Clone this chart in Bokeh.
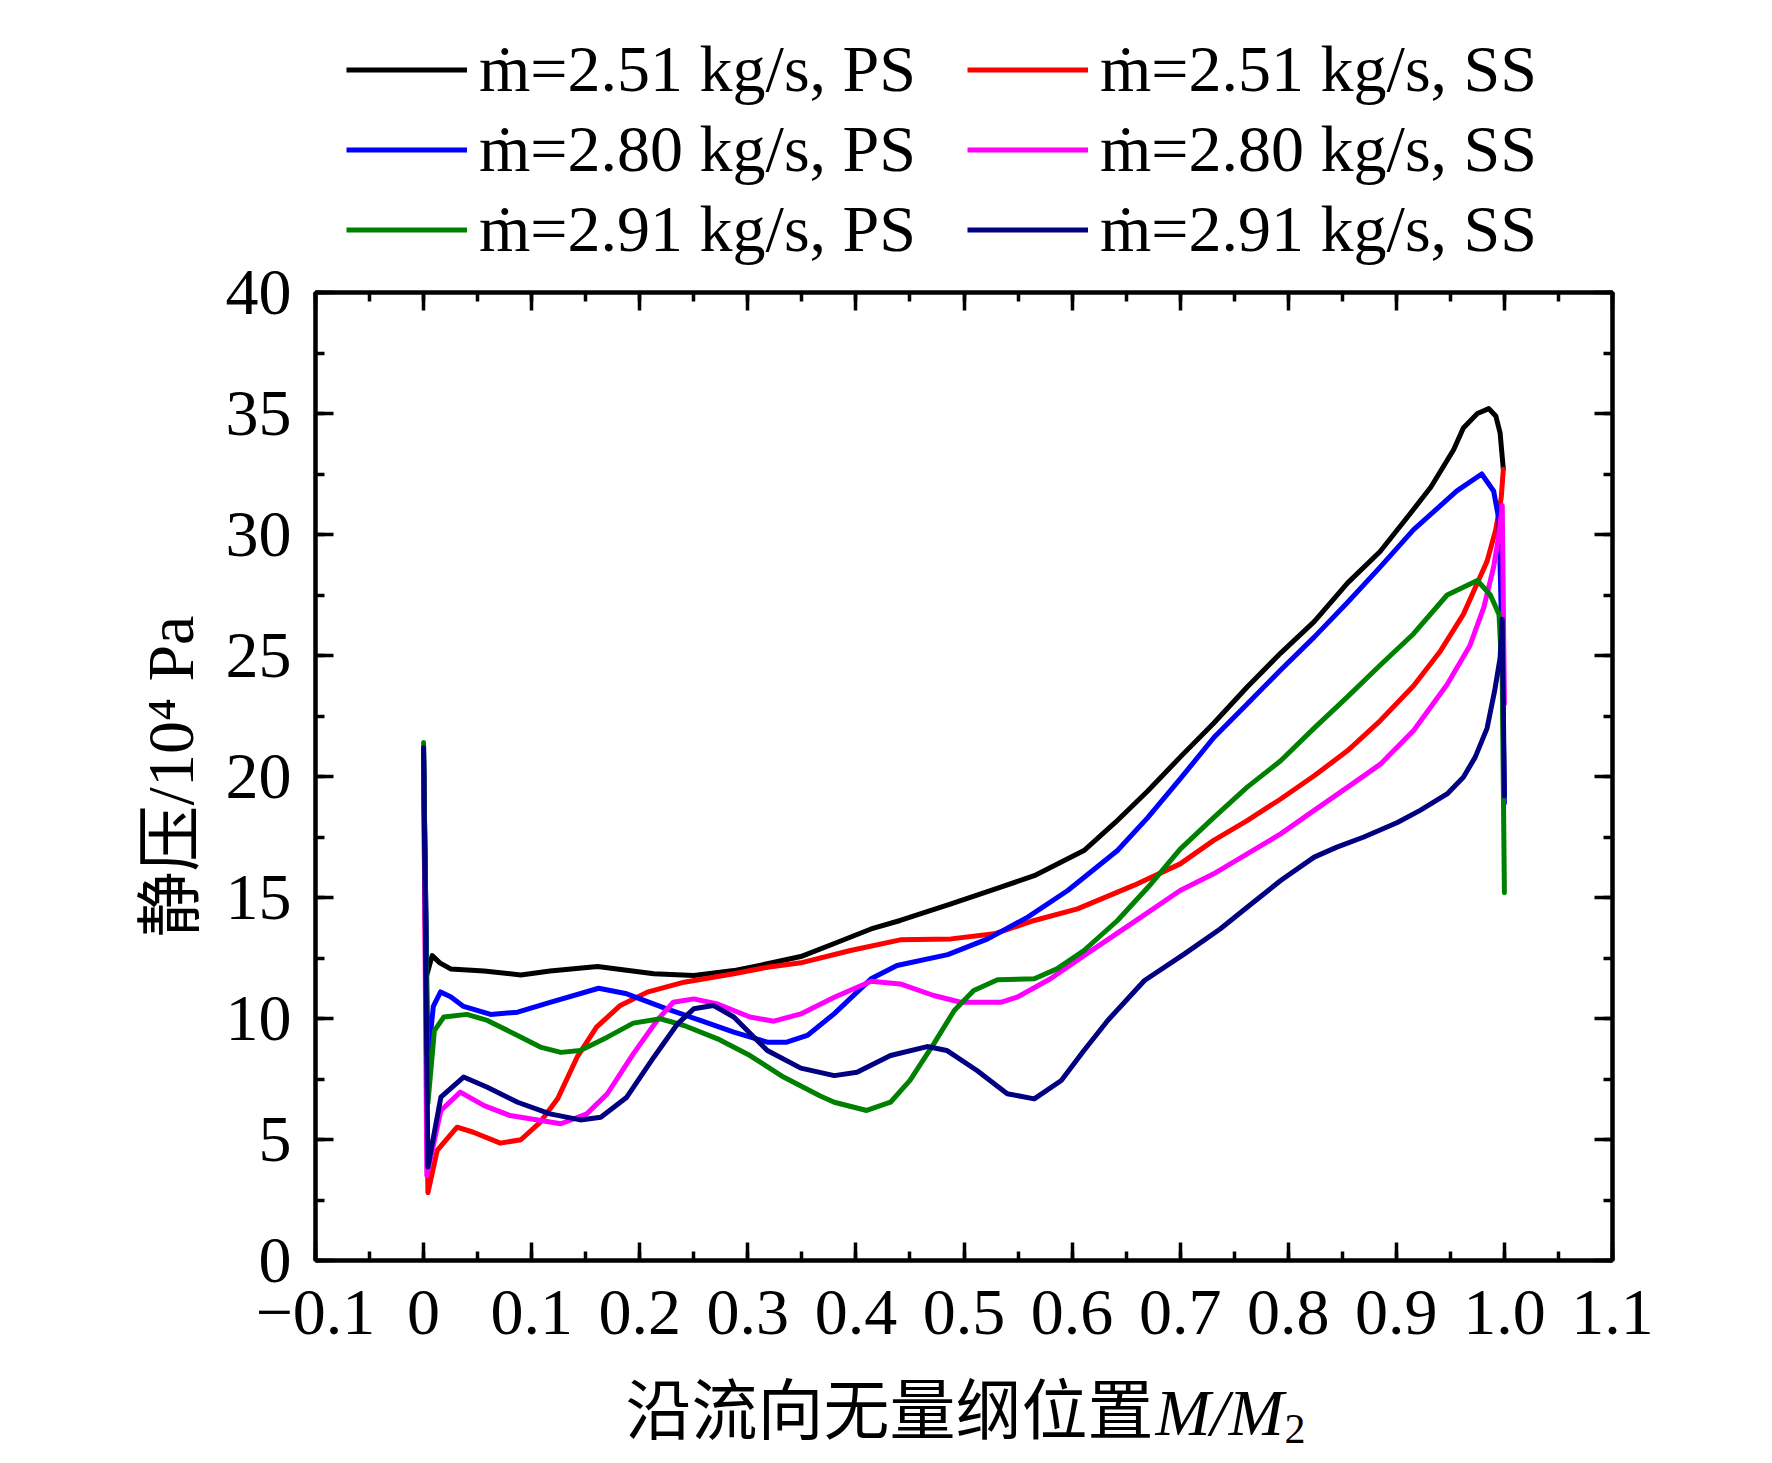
from bokeh.plotting import figure
from bokeh.layouts import column
from bokeh.models import (LinearAxis, FixedTicker, CustomJSTickFormatter, Legend,
                          LegendItem, Range1d, Label)
from bokeh.embed import file_html
from bokeh.resources import INLINE

# ---------------- data ----------------
x_251_ps = [0, 0.003, 0.008, 0.015, 0.025, 0.056, 0.09, 0.117, 0.161, 0.213, 0.25, 0.287,
            0.318, 0.349, 0.38, 0.414, 0.441, 0.488, 0.534, 0.565, 0.611, 0.64, 0.67, 0.7,
            0.731, 0.762, 0.793, 0.824, 0.855, 0.885, 0.91, 0.932, 0.953, 0.962, 0.975,
            0.9856, 0.992, 0.996, 0.999]
y_251_ps = [20.7, 11.8, 12.6, 12.3, 12.05, 11.96, 11.8, 11.96, 12.15, 11.85, 11.78, 11.98,
            12.26, 12.56, 13.1, 13.7, 14.05, 14.74, 15.43, 15.9, 16.94, 18.1, 19.4, 20.8,
            22.2, 23.7, 25.1, 26.4, 28.0, 29.3, 30.7, 31.96, 33.5, 34.4, 35.0,
            35.2, 34.9, 34.2, 32.7]

x_251_ss = [0, 0.004, 0.0126, 0.031, 0.046, 0.071, 0.09, 0.108, 0.124, 0.142, 0.16, 0.182,
            0.207, 0.241, 0.287, 0.318, 0.349, 0.395, 0.441, 0.488, 0.528, 0.565, 0.605,
            0.657, 0.7, 0.731, 0.762, 0.793, 0.824, 0.855, 0.885, 0.916, 0.941, 0.962,
            0.976, 0.984, 0.992, 0.997, 0.999]
y_251_ss = [20.0, 2.8, 4.55, 5.51, 5.3, 4.85, 4.99, 5.72, 6.68, 8.4, 9.64, 10.54,
            11.09, 11.5, 11.85, 12.12, 12.3, 12.81, 13.25, 13.29, 13.5, 14.05, 14.53,
            15.5, 16.39, 17.36, 18.18, 19.07, 20.03, 21.07, 22.3, 23.75, 25.2, 26.7,
            28.1, 28.9, 30.2, 31.5, 32.7]

x_280_ps = [0, 0.004, 0.009, 0.0157, 0.025, 0.037, 0.062, 0.087, 0.117, 0.162, 0.188, 0.225,
            0.256, 0.287, 0.318, 0.336, 0.355, 0.38, 0.414, 0.438, 0.485, 0.522, 0.559,
            0.596, 0.642, 0.67, 0.7, 0.731, 0.762, 0.793, 0.824, 0.855, 0.885, 0.916,
            0.956, 0.979, 0.99, 0.995, 0.998, 1.0]
y_280_ps = [21.0, 8.3, 10.5, 11.1, 10.9, 10.5, 10.17, 10.26, 10.67, 11.25, 11.02, 10.4,
            9.92, 9.44, 9.02, 9.02, 9.3, 10.2, 11.64, 12.19, 12.64, 13.29, 14.19,
            15.29, 16.94, 18.3, 19.9, 21.6, 23.0, 24.4, 25.76, 27.2, 28.65, 30.2,
            31.8, 32.5, 31.8, 30.6, 25.0, 18.9]

x_280_ss = [0, 0.003, 0.016, 0.034, 0.056, 0.08, 0.127, 0.151, 0.17, 0.194, 0.216, 0.231,
            0.25, 0.272, 0.302, 0.324, 0.349, 0.38, 0.414, 0.441, 0.472, 0.497, 0.534,
            0.549, 0.58, 0.611, 0.657, 0.7, 0.731, 0.762, 0.793, 0.824, 0.855, 0.885,
            0.916, 0.947, 0.968, 0.981, 0.99, 0.995, 0.998, 1.0]
y_280_ss = [20.8, 3.5, 6.2, 6.96, 6.4, 5.99, 5.65, 6.06, 6.89, 8.54, 9.92, 10.67,
            10.81, 10.6, 10.06, 9.89, 10.19, 10.88, 11.54, 11.43, 10.95, 10.67, 10.67,
            10.88, 11.64, 12.6, 13.98, 15.29, 15.98, 16.8, 17.63, 18.6, 19.56, 20.5,
            21.9, 23.8, 25.4, 27.0, 28.65, 30.0, 31.2, 23.0]

x_291_ps = [0, 0.004, 0.01, 0.0187, 0.04, 0.059, 0.087, 0.108, 0.127, 0.145, 0.17, 0.194,
            0.219, 0.241, 0.272, 0.302, 0.333, 0.367, 0.38, 0.41, 0.432, 0.45, 0.472,
            0.491, 0.509, 0.531, 0.565, 0.586, 0.611, 0.642, 0.673, 0.7, 0.731, 0.762,
            0.793, 0.824, 0.855, 0.885, 0.916, 0.947, 0.975, 0.987, 0.995, 0.998, 1.0]
y_291_ps = [21.4, 6.5, 9.5, 10.06, 10.17, 9.92, 9.3, 8.82, 8.6, 8.68, 9.23, 9.81,
            9.99, 9.71, 9.16, 8.47, 7.58, 6.8, 6.54, 6.2, 6.54, 7.44, 8.95,
            10.33, 11.16, 11.6, 11.64, 12.05, 12.81, 14.05, 15.56, 17.0, 18.3, 19.56,
            20.65, 22.0, 23.3, 24.6, 25.9, 27.5, 28.1, 27.5, 26.7, 24.0, 15.2]

x_291_ss = [0, 0.004, 0.016, 0.037, 0.059, 0.087, 0.117, 0.145, 0.164, 0.188, 0.213, 0.235,
            0.25, 0.268, 0.287, 0.318, 0.349, 0.38, 0.401, 0.432, 0.466, 0.484, 0.512,
            0.54, 0.565, 0.59, 0.611, 0.633, 0.667, 0.704, 0.737, 0.762, 0.793, 0.824,
            0.845, 0.87, 0.901, 0.922, 0.947, 0.962, 0.973, 0.984, 0.991, 0.996, 0.998, 1.0]
y_291_ss = [21.2, 3.86, 6.75, 7.58, 7.16, 6.54, 6.06, 5.81, 5.92, 6.75, 8.4, 9.78,
            10.4, 10.54, 10.06, 8.68, 7.95, 7.64, 7.78, 8.47, 8.84, 8.68, 7.85,
            6.89, 6.68, 7.44, 8.68, 9.92, 11.57, 12.67, 13.7, 14.6, 15.7, 16.67,
            17.08, 17.5, 18.1, 18.6, 19.28, 19.97, 20.8, 22.0, 23.55, 24.9, 26.5, 19.2]

series_labels = ["ṁ=2.51 kg/s, PS", "ṁ=2.51 kg/s, SS",
                 "ṁ=2.80 kg/s, PS", "ṁ=2.80 kg/s, SS",
                 "ṁ=2.91 kg/s, PS", "ṁ=2.91 kg/s, SS"]
series_colors = ["#000000", "#FF0000", "#0000FF", "#FF00FF", "#008000", "#000080"]

x_ticks = [-0.1, 0.0, 0.1, 0.2, 0.3, 0.4, 0.5, 0.6, 0.7, 0.8, 0.9, 1.0, 1.1]
x_tick_labels = ["\u22120.1", "0", "0.1", "0.2", "0.3", "0.4", "0.5", "0.6", "0.7",
                 "0.8", "0.9", "1.0", "1.1"]
x_minor = [-0.1 + 0.05 * i for i in range(25)]
y_ticks = [0, 5, 10, 15, 20, 25, 30, 35, 40]
y_tick_labels = ["0", "5", "10", "15", "20", "25", "30", "35", "40"]
y_minor = [2.5 * i for i in range(17)]

y_label = "静压/10\u2074 Pa"
x_label_cjk = "沿流向无量纲位置"
x_label_var = "M/M"
x_label_sub = "2"

# ---------------- styling ----------------
SERIF = "Liberation Serif"
FS = "66px"
W = 1756
LEG_H = 267
MAIN_H = 1103
XL_H = 90

xs = [x_251_ps, x_251_ss, x_280_ps, x_280_ss, x_291_ps, x_291_ss]
ys = [y_251_ps, y_251_ss, y_280_ps, y_280_ss, y_291_ps, y_291_ss]

# ---------------- main plot ----------------
p = figure(width=W, height=MAIN_H, output_backend="svg", toolbar_location=None,
           x_range=Range1d(-0.1, 1.1), y_range=Range1d(0, 40),
           min_border_left=315, min_border_right=144, min_border_top=25,
           min_border_bottom=110, x_axis_location=None, y_axis_location=None)
p.xgrid.visible = False
p.ygrid.visible = False
p.outline_line_color = "black"
p.outline_line_width = 4
p.background_fill_color = "white"
p.border_fill_color = "white"

fmt_code = ("const i = tvals.findIndex(t => Math.abs(t - tick) < 1e-6);"
            "return i >= 0 ? tlabels[i] : '';")


def make_axis(ticks, minor, labels, show_labels):
    ax = LinearAxis(ticker=FixedTicker(ticks=ticks, minor_ticks=minor))
    ax.axis_line_width = 4
    ax.axis_line_color = "black"
    ax.major_tick_in = 18
    ax.major_tick_out = 0
    ax.minor_tick_in = 9
    ax.minor_tick_out = 0
    ax.major_tick_line_width = 3.5
    ax.minor_tick_line_width = 3.5
    ax.major_tick_line_color = "black"
    ax.minor_tick_line_color = "black"
    ax.formatter = CustomJSTickFormatter(args=dict(tvals=ticks, tlabels=labels), code=fmt_code)
    if show_labels:
        ax.major_label_text_font = SERIF
        ax.major_label_text_font_size = FS
        ax.major_label_text_color = "black"
    else:
        ax.major_label_text_font_size = "0px"
        ax.major_label_text_color = None
        ax.major_label_standoff = 0
    return ax


xb = make_axis(x_ticks, x_minor, x_tick_labels, True)
xb.major_label_standoff = 30
p.add_layout(xb, "below")

yl = make_axis(y_ticks, y_minor, y_tick_labels, True)
yl.major_label_standoff = 24
yl.axis_label = y_label
yl.axis_label_text_font = "Liberation Serif, Noto Sans CJK SC"
yl.axis_label_text_font_size = FS
yl.axis_label_text_font_style = "normal"
yl.axis_label_text_color = "black"
yl.axis_label_standoff = 16
p.add_layout(yl, "left")
p.add_layout(make_axis(x_ticks, x_minor, x_tick_labels, False), "above")
p.add_layout(make_axis(y_ticks, y_minor, y_tick_labels, False), "right")

for xv, yv, c in zip(xs, ys, series_colors):
    p.line(xv, yv, line_color=c, line_width=5, line_join="round", line_cap="round")

# ---------------- legend strip above the plot ----------------
# the strip's ranges lie away from the data, so its lines only serve as legend swatches
pl = figure(width=W, height=LEG_H, output_backend="svg", toolbar_location=None,
            x_range=Range1d(5, 6), y_range=Range1d(100, 101), min_border=0,
            x_axis_location=None, y_axis_location=None)
pl.xgrid.visible = False
pl.ygrid.visible = False
pl.outline_line_color = None
pl.background_fill_color = "white"
pl.border_fill_color = "white"
leg_renderers = [pl.line(xv, yv, line_color=c, line_width=5)
                 for xv, yv, c in zip(xs, ys, series_colors)]
items = [LegendItem(label=lab, renderers=[r]) for lab, r in zip(series_labels, leg_renderers)]
legend = Legend(items=items, location=(31, 0), orientation="horizontal", ncols=2,
                glyph_width=121, glyph_height=73, label_height=73, label_width=484,
                label_standoff=12, spacing=4, padding=0, margin=0,
                label_text_font=SERIF, label_text_font_size=FS, label_text_color="black",
                border_line_color=None, background_fill_alpha=0)
pl.add_layout(legend, "center")

# ---------------- x-axis title strip (upright CJK + italic variable + subscript) -----
pb = figure(width=W, height=XL_H, output_backend="svg", toolbar_location=None,
            x_range=Range1d(0, 1), y_range=Range1d(0, 1), min_border=0,
            x_axis_location=None, y_axis_location=None)
pb.xgrid.visible = False
pb.ygrid.visible = False
pb.outline_line_color = None
pb.background_fill_color = "white"
pb.border_fill_color = "white"
pb.add_layout(Label(x=838, y=56, x_units="screen", y_units="screen", text=x_label_cjk,
                    text_align="right", text_baseline="middle",
                    text_font="Noto Sans CJK SC", text_font_size=FS, text_color="black"))
pb.add_layout(Label(x=840, y=48, x_units="screen", y_units="screen", text=x_label_var,
                    text_align="left", text_baseline="middle",
                    text_font=SERIF, text_font_style="italic", text_font_size=FS,
                    text_color="black"))
pb.add_layout(Label(x=969, y=32, x_units="screen", y_units="screen", text=x_label_sub,
                    text_align="left", text_baseline="middle",
                    text_font=SERIF, text_font_size="42px", text_color="black"))

layout = column(pl, p, pb, spacing=0)
open("out.html", "w").write(file_html(layout, INLINE))
